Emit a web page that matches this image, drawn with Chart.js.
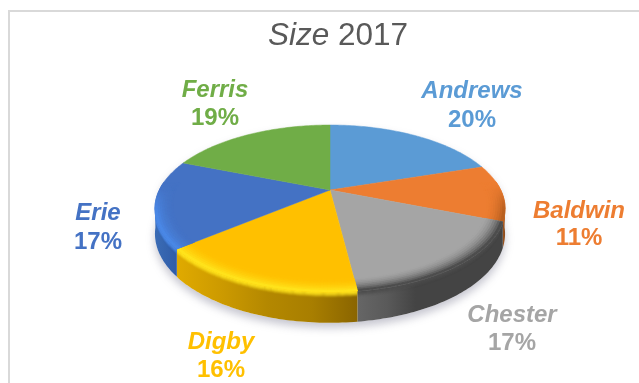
<!DOCTYPE html>
<html>
<head>
<meta charset="utf-8">
<title>Size 2017</title>
<script src="https://cdn.jsdelivr.net/npm/chart.js@4/dist/chart.umd.min.js"></script>
<style>
  html, body { margin: 0; background: #fff; overflow: hidden; }
  /* only the top and left edges of the frame fall inside the window */
  .frame { position: absolute; left: 8px; top: 10px; width: 640px; height: 380px;
           border-left: 2px solid #d9d9d9; border-top: 2px solid #d9d9d9; }
  canvas { position: absolute; left: 0; top: 0; }
</style>
</head>
<body>
<div class="frame"></div>
<canvas id="pie" width="639" height="383"></canvas>
<script>
const categories = ['Andrews', 'Baldwin', 'Chester', 'Digby', 'Erie', 'Ferris'];
const shares = [20, 11, 17, 16, 17, 19];
const faceColors = ['#5b9bd5', '#ed7d31', '#a5a5a5', '#ffc000', '#4472c4', '#70ad47'];
const rimColors = ['#5b9bd5', '#b85f20', '#4c4c4c', '#ffe31c', '#4a88e6', '#70ad47'];
const wallColors = [
  ['#41719c', '#41719c'],
  ['#9c5520', '#8a4a1c'],
  ['#666666', '#5a5a5a', '#444444', '#444444', '#444444', '#444444'],
  ['#e0aa00', '#cc9a00', '#b48800', '#a87e00', '#8a6500'],
  ['#3b6cb5', '#2f5ca8'],
  ['#507e32', '#507e32']
];
const labelColors = ['#5b9bd5', '#ed7d31', '#a5a5a5', '#ffc000', '#4472c4', '#70ad47'];
// centre x, name baseline, percent baseline
const labelSpots = [[472, 98, 127], [579, 218, 245], [512, 322, 350], [221, 349, 377], [98, 220, 249], [215, 97, 125]];

// pie tilt: flat disc seen from above, nearer side larger
const TILT = 0.465, PERSP = -0.2216, DEPTH = 24;
const FONT = '"Liberation Sans", Arial, sans-serif';

function project(el, r, a) {
  const u = r * Math.cos(a), v = r * Math.sin(a), w = 1 + PERSP * v;
  return { x: el.x + el.outerRadius * u / w, y: el.y + el.outerRadius * TILT * v / w, w: w };
}

function rgb(hex) {
  return [1, 3, 5].map(i => parseInt(hex.substr(i, 2), 16));
}
function mix(a, b, t) {
  const p = rgb(a), q = rgb(b);
  const c = p.map((n, i) => Math.round(n + (q[i] - n) * t));
  return '#' + c.map(n => n.toString(16).padStart(2, '0')).join('');
}
function smooth(a, b, x) {
  const t = Math.min(1, Math.max(0, (x - a) / (b - a)));
  return t * t * (3 - 2 * t);
}
function trace(ctx, pts) {
  ctx.beginPath();
  pts.forEach((p, i) => i ? ctx.lineTo(p.x, p.y) : ctx.moveTo(p.x, p.y));
}
function quad(ctx, pts, color) {
  trace(ctx, pts);
  ctx.closePath();
  ctx.fillStyle = color;
  ctx.strokeStyle = color;
  ctx.lineWidth = 0.8;
  ctx.fill();
  ctx.stroke();
}

// arc that draws its slice as a tilted 3D wedge
class TiltedArc extends Chart.ArcElement {
  static id = 'tiltedArc';

  draw(ctx) {
    const i = faceColors.indexOf(this.options.backgroundColor);
    const face = faceColors[i], rim = rimColors[i];
    const start = this.startAngle, end = this.endAngle;
    const steps = Math.ceil((end - start) / (Math.PI / 180));
    const da = (end - start) / steps;
    ctx.save();

    // side wall, only the part facing the viewer
    const front = [];
    for (let s = 0; s <= steps; s++) {
      const a = start + s * da;
      if (Math.sin(a) >= 0.15) front.push(project(this, 1, a));
    }
    if (front.length > 1) {
      const xs = front.map(p => p.x);
      const xMin = Math.min(...xs), xMax = Math.max(...xs);
      const g = ctx.createLinearGradient(xMin, 0, xMax, 0);
      wallColors[i].forEach((c, n) => g.addColorStop(n / (wallColors[i].length - 1), c));
      const lower = front.map(p => ({ x: p.x, y: p.y + DEPTH / p.w })).reverse();
      trace(ctx, front.concat(lower));
      ctx.closePath();
      ctx.fillStyle = g;
      ctx.fill();

      // rim colour fading down the wall
      ctx.save();
      ctx.clip();
      ctx.strokeStyle = rim;
      ctx.lineWidth = 1.4;
      for (let k = 0; k < 7; k++) {
        trace(ctx, front.map(p => ({ x: p.x, y: p.y + k })));
        ctx.globalAlpha = 1 - smooth(0, 7, k + 0.5);
        ctx.stroke();
      }
      ctx.restore();
    }

    // top face
    ctx.beginPath();
    const c = project(this, 0, 0);
    ctx.moveTo(c.x, c.y);
    for (let s = 0; s <= steps; s++) {
      const p = project(this, 1, start + s * da);
      ctx.lineTo(p.x, p.y);
    }
    ctx.closePath();
    ctx.fillStyle = face;
    ctx.strokeStyle = face;
    ctx.lineWidth = 0.5;
    ctx.fill();
    ctx.stroke();

    // soft bevel along the rim
    const rings = 8, inner = 0.9;
    for (let k = 0; k < rings; k++) {
      const r0 = inner + (1 - inner) * k / rings, r1 = inner + (1 - inner) * (k + 1) / rings;
      for (let s = 0; s < steps; s++) {
        const a0 = start + s * da, a1 = a0 + da;
        const glow = smooth(-0.1, 0.3, Math.sin((a0 + a1) / 2));
        if (glow <= 0) continue;
        const t = (k + 1) / rings;
        quad(ctx, [project(this, r0, a0), project(this, r0, a1), project(this, r1, a1), project(this, r1, a0)],
          mix(face, rim, t * t * glow));
      }
    }
    ctx.restore();
  }
}

class TiltedPie extends Chart.PieController {
  static id = 'tiltedPie';
  static defaults = { dataElementType: 'tiltedArc' };
}
Chart.register(TiltedArc, TiltedPie);

// soft shadow under the pie
const groundShadow = {
  id: 'groundShadow',
  beforeDatasetsDraw(chart) {
    const el = chart.getDatasetMeta(0).data[0];
    const ctx = chart.ctx;
    ctx.save();
    ctx.beginPath();
    for (let d = 0; d <= 360; d += 3) {
      const a = d * Math.PI / 180, p = project(el, 1, a);
      const h = Math.sin(a) > 0 ? DEPTH / p.w : 0;
      ctx.lineTo(p.x, p.y + h);
    }
    ctx.closePath();
    ctx.shadowColor = 'rgba(110,110,135,0.4)';
    ctx.shadowBlur = 9;
    ctx.shadowOffsetY = 5;
    ctx.fillStyle = '#fff';
    ctx.fill();
    ctx.restore();
  }
};

// title with mixed styles and the name / percent labels
const textLayer = {
  id: 'textLayer',
  afterDraw(chart) {
    const ctx = chart.ctx;
    ctx.save();
    ctx.textBaseline = 'alphabetic';
    ctx.textAlign = 'left';
    ctx.fillStyle = '#595959';
    ctx.font = 'italic 31.5px ' + FONT;
    const head = 'Size';
    const headW = ctx.measureText(head).width;
    ctx.font = '31.5px ' + FONT;
    const tail = ' 2017';
    const tailW = ctx.measureText(tail).width;
    const x0 = 338 - (headW + tailW) / 2;
    ctx.fillText(tail, x0 + headW, 45);
    ctx.font = 'italic 31.5px ' + FONT;
    ctx.fillText(head, x0, 45);

    ctx.textAlign = 'center';
    categories.forEach((name, i) => {
      const [x, y1, y2] = labelSpots[i];
      ctx.fillStyle = labelColors[i];
      ctx.font = 'italic bold 24px ' + FONT;
      ctx.fillText(name, x, y1);
      ctx.font = 'bold 24px ' + FONT;
      ctx.fillText(shares[i] + '%', x, y2);
    });
    ctx.restore();
  }
};

new Chart(document.getElementById('pie'), {
  type: 'tiltedPie',
  data: {
    labels: categories,
    datasets: [{ data: shares, backgroundColor: faceColors, borderWidth: 0, clip: false }]
  },
  options: {
    responsive: false,
    animation: false,
    events: [],
    layout: { padding: { left: 21, right: 0, top: 19.3, bottom: 22.3 } },
    plugins: { legend: { display: false }, title: { display: false }, tooltip: { enabled: false } }
  },
  plugins: [groundShadow, textLayer]
});
</script>
</body>
</html>
